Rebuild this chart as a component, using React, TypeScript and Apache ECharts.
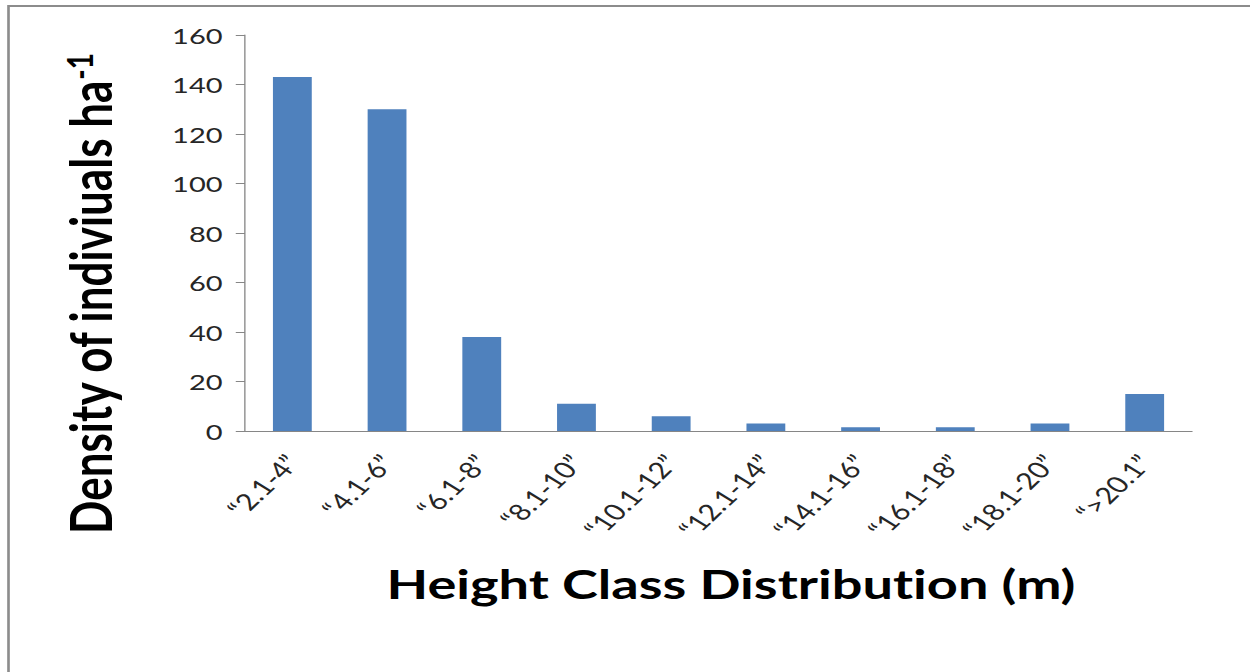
import React, { useEffect, useRef } from "react";
import * as echarts from "echarts";

// Height classes (m) and stem density per class
const heightClasses = [
  "“2.1-4”",
  "“4.1-6”",
  "“6.1-8”",
  "“8.1-10”",
  "“10.1-12”",
  "“12.1-14”",
  "“14.1-16”",
  "“16.1-18”",
  "“18.1-20”",
  "“>20.1”",
];
const densityValues = [143, 130, 38, 11, 6, 3, 1.5, 1.5, 3, 15];

const yMin = 0;
const yMax = 160;
const yStep = 20;

const xTitle = "Height Class Distribution (m)";
const yTitleMain = "Density of indiviuals ha";
const yTitleSup = "-1";

// The chart is laid out on a narrower canvas and widened horizontally.
const STRETCH = 1.32;
const PAGE_W = 1250;
const PAGE_H = 672;
const CHART_W = PAGE_W / STRETCH;

const FONT = "Lato, Carlito, 'Open Sans', sans-serif";

export default function App() {
  const ref = useRef<HTMLDivElement>(null);

  useEffect(() => {
    document.body.style.margin = "0";
    if (!ref.current) return;
    const chart = echarts.init(ref.current, null, { renderer: "svg" });

    chart.setOption({
      animation: false,
      backgroundColor: "#ffffff",
      grid: {
        left: 245 / STRETCH,
        right: CHART_W - 1192 / STRETCH,
        top: 35,
        bottom: PAGE_H - 431,
        containLabel: false,
      },
      xAxis: {
        type: "category",
        data: heightClasses,
        axisLine: { show: true, lineStyle: { color: "#868686", width: 1 } },
        axisTick: { show: false },
        axisLabel: {
          interval: 0,
          rotate: 51,
          margin: 27,
          fontFamily: FONT,
          fontSize: 23,
          color: "#262626",
        },
        splitLine: { show: false },
      },
      yAxis: {
        type: "value",
        min: yMin,
        max: yMax,
        interval: yStep,
        axisLine: { show: true, lineStyle: { color: "#868686", width: 1 } },
        axisTick: {
          show: true,
          length: 7,
          lineStyle: { color: "#868686" },
        },
        axisLabel: {
          margin: 17,
          fontFamily: FONT,
          fontSize: 22,
          color: "#262626",
        },
        splitLine: { show: false },
      },
      series: [
        {
          type: "bar",
          data: densityValues,
          barWidth: "41%",
          itemStyle: { color: "#4F81BD" },
        },
      ],
      graphic: [
        {
          type: "rect",
          silent: true,
          shape: { x: 8.5 / STRETCH, y: 6, width: 3000, height: 3000 },
          style: { fill: "none", stroke: "#8c8c8c", lineWidth: 2 },
        },
        {
          type: "text",
          x: 731 / STRETCH,
          y: 583,
          style: {
            text: xTitle,
            fontFamily: FONT,
            fontWeight: "bold",
            fontSize: 41,
            fill: "#000000",
            align: "center",
            verticalAlign: "middle",
          },
        },
        {
          type: "text",
          x: 89 / STRETCH,
          y: 294,
          rotation: Math.PI / 2,
          style: {
            text: `{a|${yTitleMain}}{b|${yTitleSup}}`,
            align: "center",
            verticalAlign: "middle",
            rich: {
              a: {
                fontFamily: FONT,
                fontWeight: "bold",
                fontSize: 44,
                fill: "#000000",
              },
              b: {
                fontFamily: FONT,
                fontWeight: "bold",
                fontSize: 28,
                fill: "#000000",
                verticalAlign: "top",
              },
            },
          },
        },
      ],
    });

    return () => chart.dispose();
  }, []);

  return (
    <div
      style={{
        width: PAGE_W,
        height: PAGE_H,
        position: "relative",
        overflow: "hidden",
        background: "#ffffff",
      }}
    >
      <style>{"svg text { font-variant-ligatures: none; font-feature-settings: 'liga' 0, 'clig' 0; }"}</style>
      <div
        ref={ref}
        style={{
          width: CHART_W,
          height: PAGE_H,
          position: "absolute",
          left: 0,
          top: 0,
          transform: `scaleX(${STRETCH})`,
          transformOrigin: "0 0",
        }}
      />
    </div>
  );
}
